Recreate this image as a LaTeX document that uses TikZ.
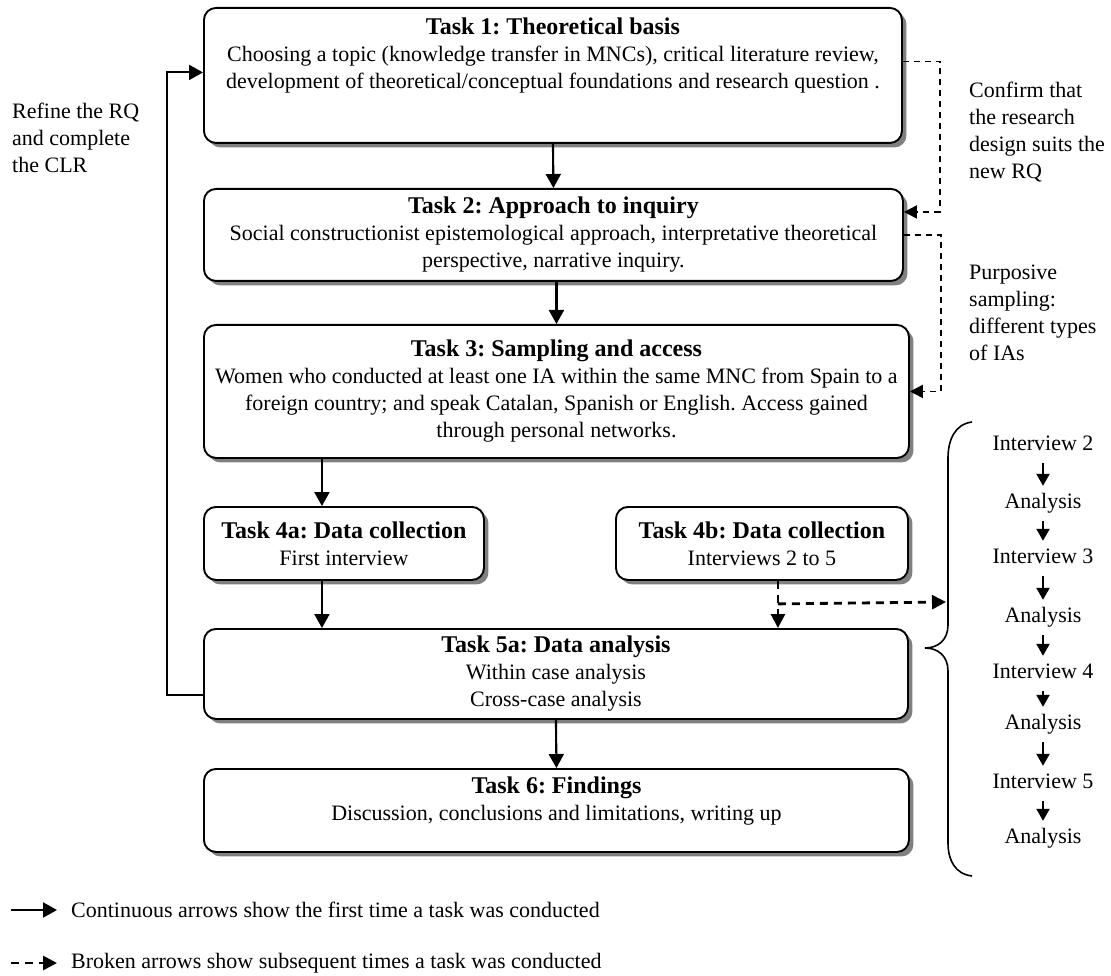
\documentclass[tikz,border=0pt]{standalone}
\usepackage{fontspec}
\setmainfont{Liberation Serif}
\usetikzlibrary{arrows.meta,shadows}
\frenchspacing

\newcommand{\taskTitle}[1]{{\fontsize{24}{27}\selectfont\bfseries #1}}

\begin{document}
\begin{tikzpicture}[
        % 像素坐标: y 轴向下
        x=1pt, y=-1pt,
        font=\fontsize{22}{27}\selectfont,
        taskBox/.style={draw, line width=1.9pt, rounded corners=12pt, fill=white,
            align=center, anchor=north west, inner sep=0pt,
            drop shadow={shadow xshift=4.5pt, shadow yshift=-4.5pt, fill=black!50, opacity=1}},
        % 箭头样式
        flowArrow/.style={-{Triangle[length=14pt, width=15pt]}, line width=2.1pt},
        dashArrow/.style={-{Triangle[length=13pt, width=13pt]}, line width=1.6pt, dash pattern=on 6pt off 5pt},
        dashThick/.style={-{Triangle[length=14pt, width=14pt]}, line width=2.8pt, dash pattern=on 8pt off 6pt},
        stepArrow/.style={-{Triangle[length=12pt, width=13pt]}, line width=2.1pt, shorten <=6pt, shorten >=5pt},
        stepText/.style={inner sep=2pt, text height=15pt, text depth=5pt},
        sideNote/.style={anchor=west, align=left, inner sep=0pt}
    ]

    % --- 参数定义 ---
    \def\colL{203}      % 任务框左边界
    \def\noteX{969}     % 右侧说明文字
    \def\listX{1043}    % 访谈序列
    \def\braceX{948}    % 花括号竖线

    \useasboundingbox (0,0) rectangle (1111,976);

    % --- 1. 任务框 ---
    \node[taskBox, minimum width=698pt, minimum height=135pt] (t1) at (\colL,7)
        {\taskTitle{Task 1: Theoretical basis}\\
         Choosing a topic (knowledge transfer in MNCs), critical literature review,\\
         development of theoretical/conceptual foundations and research question .\\[17pt]\mbox{}};
    \node[taskBox, minimum width=699pt, minimum height=92pt] (t2) at (\colL,188)
        {\taskTitle{Task 2: Approach to inquiry}\\
         Social constructionist epistemological approach, interpretative theoretical\\
         perspective, narrative inquiry.};
    \node[taskBox, minimum width=705pt, minimum height=133pt] (t3) at (\colL,324)
        {\taskTitle{Task 3: Sampling and access}\\
         Women who conducted at least one IA within the same MNC from Spain to a\\
         foreign country; and speak Catalan, Spanish or English. Access gained\\
         through personal networks.};
    \node[taskBox, minimum width=280pt, minimum height=73pt] (t4a) at (\colL,506)
        {\taskTitle{Task 4a: Data collection}\\First interview};
    \node[taskBox, minimum width=292pt, minimum height=73pt] (t4b) at (615,506)
        {\taskTitle{Task 4b: Data collection}\\Interviews 2 to 5};
    \node[taskBox, minimum width=704pt, minimum height=90pt] (t5a) at (\colL,628)
        {\taskTitle{Task 5a: Data analysis}\\Within case analysis\\Cross-case analysis};
    \node[taskBox, minimum width=705pt, minimum height=83pt] (t6) at (\colL,768)
        {\taskTitle{Task 6: Findings}\\
         Discussion, conclusions and limitations, writing up\\[-4pt]\mbox{}};

    % --- 2. 主流程实线箭头 ---
    \coordinate (a4n) at ([xshift=-22pt]t4a.north);
    \coordinate (a4s) at ([xshift=-22pt]t4a.south);
    \draw[flowArrow] (t1.south) -- (t2.north);
    \draw[flowArrow] (t2.south -| t3.north) -- (t3.north);
    \draw[flowArrow] (a4n |- t3.south) -- (a4n);
    \draw[flowArrow] (a4s) -- (a4s |- t5a.north);
    \draw[flowArrow] (t5a.south) -- (t6.north);

    % 回到 Task 1 的循环
    \draw[flowArrow] ([yshift=-21pt]t5a.west) -- ++(-36,0) |- ([yshift=3pt]t1.west);

    % --- 3. 右侧虚线 ---
    \draw[dashArrow] ([yshift=14pt]t1.east) -- ++(37,0) |- ([yshift=23pt]t2.east);
    \draw[dashArrow] (t2.east) -- ++(37,0) |- (t3.east);

    % Task 4b 的粗虚线
    \coordinate (split) at ([xshift=16pt, yshift=-23pt]t4b.south);
    \coordinate (braceIn) at (\braceX-2,602);
    \draw[dashThick] ([xshift=16pt]t4b.south) -- (split |- t5a.north);
    \draw[dashThick] (split) -- (braceIn);

    % --- 4. 花括号 ---
    \draw[line width=1.6pt] (972,422) .. controls (955,424) and (\braceX,440) .. (\braceX,458)
        -- (\braceX,625) .. controls (\braceX,640) and (938,648) .. (925,648)
        .. controls (938,648) and (\braceX,656) .. (\braceX,671)
        -- (\braceX,843) .. controls (\braceX,860) and (955,874) .. (972,876);

    % --- 5. 访谈与分析序列 ---
    \foreach \i/\yy/\txt in {1/445/Interview 2, 2/503/Analysis, 3/558/Interview 3, 4/617/Analysis,
                             5/673/Interview 4, 6/724/Analysis, 7/783/Interview 5, 8/838/Analysis} {
        \node[stepText] (s\i) at (\listX,\yy) {\txt};
    }
    \foreach \i in {1,...,7} {
        \pgfmathtruncatemacro{\nxt}{\i+1}
        \draw[stepArrow] (s\i) -- (s\nxt);
    }

    % --- 6. 说明文字 ---
    \node[sideNote] (refine) at (12,138) {Refine the RQ\\and complete\\the CLR};
    \node[sideNote] (confirm) at (\noteX,132) {Confirm that\\the research\\design suits the\\new RQ};
    \node[sideNote] (purpose) at (\noteX,313) {Purposive\\sampling:\\different types\\of IAs};

    % --- 7. 图例 ---
    \coordinate (legA) at (11,910);
    \coordinate (legB) at (11,963);
    \node[anchor=west, inner sep=0pt] (legSolid) at (71,910) {Continuous arrows show the first time a task was conducted};
    \node[anchor=west, inner sep=0pt] (legDash) at (71,963) {Broken arrows show subsequent times a task was conducted};
    \draw[flowArrow] (legA) -- ([xshift=-14pt]legSolid.west);
    \draw[dashThick] (legB) -- ([xshift=-14pt]legDash.west);

\end{tikzpicture}
\end{document}
